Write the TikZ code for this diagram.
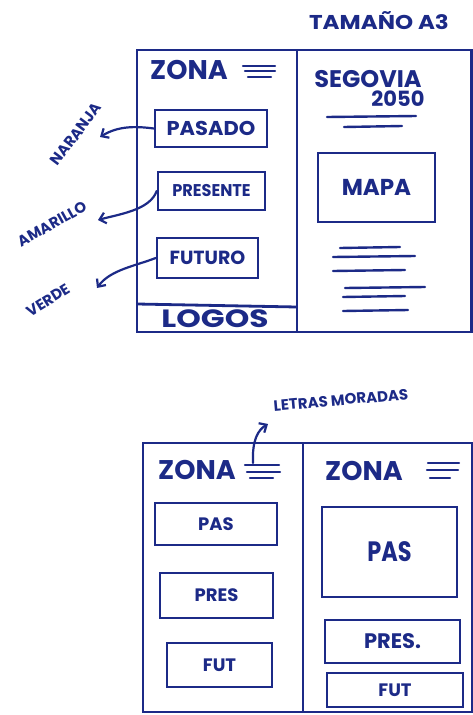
\documentclass[tikz,border=0pt]{standalone}
\usepackage{fontspec}
\setmainfont{Poppins}
\usetikzlibrary{arrows.meta}
\definecolor{ink}{RGB}{28,42,135}
\tikzset{
  frame/.style={draw=ink, line width=2.8pt},
  box/.style={draw=ink, line width=2.6pt, rectangle, inner sep=0pt},
  stroke/.style={draw=ink, line width=2.4pt, line cap=round},
  hand/.style={text=ink, inner sep=0pt},
  note/.style={hand, font=\bfseries\fontsize{15}{15}\selectfont},
  pointer/.style={draw=ink, line width=2.2pt, line cap=round, -{Straight Barb[length=6pt,width=11pt,line width=2.2pt]}},
}
\begin{document}
\begin{tikzpicture}[x=1pt,y=-1pt]
\useasboundingbox[fill=white] (0,0) rectangle (473,715);

% title
\node[hand, font=\bfseries\fontsize{20}{20}\selectfont, transform shape, xscale=1.15] (title) at (379,21) {TAMAÑO A3};

% ===== top layout =====
\draw[frame] (137,50) rectangle (471.5,332);
\draw[frame] (297,50) -- (297,332);
\draw[frame] (137,304) -- (297,307);

\node[hand, font=\bfseries\fontsize{27}{27}\selectfont] (zona1) at (189,70) {ZONA};
\draw[stroke] (243,66) -- (275,66) (245,71) -- (275,71) (248,77) -- (271,77);

\node[box, minimum width=112pt, minimum height=37pt] (pasado) at (211,128.5) {};
\node[hand, font=\bfseries\fontsize{20}{20}\selectfont, transform shape, xscale=1.05] at (pasado) {PASADO};
\node[box, minimum width=107pt, minimum height=38pt] (presente) at (211.5,191) {};
\node[hand, font=\bfseries\fontsize{17}{17}\selectfont, transform shape, xscale=0.95] at (presente) {PRESENTE};
\node[box, minimum width=101pt, minimum height=40pt] (futuro) at (207.5,258) {};
\node[hand, font=\bfseries\fontsize{19}{19}\selectfont] at (futuro) {FUTURO};

\node[hand, font=\bfseries\fontsize{25}{25}\selectfont, transform shape, xscale=1.25] (logos) at (215,319) {LOGOS};

\node[hand, font=\bfseries\fontsize{24}{24}\selectfont] (segovia) at (368,79) {SEGOVIA};
\node[hand, font=\bfseries\fontsize{21}{21}\selectfont] (anno) at (398,99) {2050};
\draw[stroke] (327,117) -- (416,116) (344,127) -- (402,126);

\node[box, minimum width=117pt, minimum height=69pt] (mapa) at (376.5,187.5) {};
\node[hand, font=\bfseries\fontsize{23}{23}\selectfont] at (mapa) {MAPA};

\draw[stroke] (340,248) -- (400,247) (333,257) -- (415,256) (333,271) -- (405,270)
              (345,288) -- (425,287) (343,297) -- (405,296) (343,311) -- (408,310);

% annotations
\node[note, rotate=53] (naranja) at (76,134) {NARANJA};
\node[note, rotate=29] (amarillo) at (52,224) {AMARILLO};
\node[note, rotate=32] (verde) at (48,300) {VERDE};
\coordinate (tipN) at (100,137);
\coordinate (tipA) at (98,220);
\coordinate (tipV) at (97,288);
\draw[pointer] (pasado.west) .. controls (135,126) and (118,126) .. (tipN);
\draw[pointer] (presente.west) .. controls (150,210) and (120,214) .. (tipA);
\draw[pointer] (futuro.west) .. controls (135,266) and (110,270) .. (tipV);

% ===== bottom layout =====
\node[hand, font=\bfseries\fontsize{15}{15}\selectfont, rotate=5] (letras) at (341,400) {LETRAS MORADAS};
\coordinate (eqL) at (253,463);
\draw[pointer] (eqL) .. controls (252,440) and (258,430) .. (268,424);

\draw[frame] (143,443) rectangle (472,712);
\draw[frame] (303,443) -- (303,712);

\node[hand, font=\bfseries\fontsize{27}{27}\selectfont] (zona2) at (197,470) {ZONA};
\draw[stroke] (245,465) -- (279,465) (247,472) -- (280,472) (250,478) -- (273,478);
\node[hand, font=\bfseries\fontsize{27}{27}\selectfont] (zona3) at (364,471) {ZONA};
\draw[stroke] (428,463) -- (459,463) (427,470) -- (458,470) (430,478) -- (450,478);

\node[box, minimum width=122pt, minimum height=42pt] (pas1) at (216,524) {};
\node[hand, font=\bfseries\fontsize{18}{18}\selectfont] at (pas1) {PAS};
\node[box, minimum width=113pt, minimum height=45pt] (pres1) at (216.5,595.5) {};
\node[hand, font=\bfseries\fontsize{18}{18}\selectfont] at (pres1) {PRES};
\node[box, minimum width=105pt, minimum height=44pt] (fut1) at (219.5,665) {};
\node[hand, font=\bfseries\fontsize{18}{18}\selectfont] at (fut1) {FUT};

\node[box, minimum width=135pt, minimum height=90pt] (pas2) at (389.5,552) {};
\node[hand, font=\bfseries\fontsize{28}{28}\selectfont, transform shape, xscale=0.8] at (pas2) {PAS};
\node[box, minimum width=135pt, minimum height=43pt] (pres2) at (392.5,641.5) {};
\node[hand, font=\bfseries\fontsize{21}{21}\selectfont] at (pres2) {PRES.};
\node[box, minimum width=136pt, minimum height=34pt] (fut2) at (395,690) {};
\node[hand, font=\bfseries\fontsize{18}{18}\selectfont] at (fut2) {FUT};
\end{tikzpicture}
\end{document}
